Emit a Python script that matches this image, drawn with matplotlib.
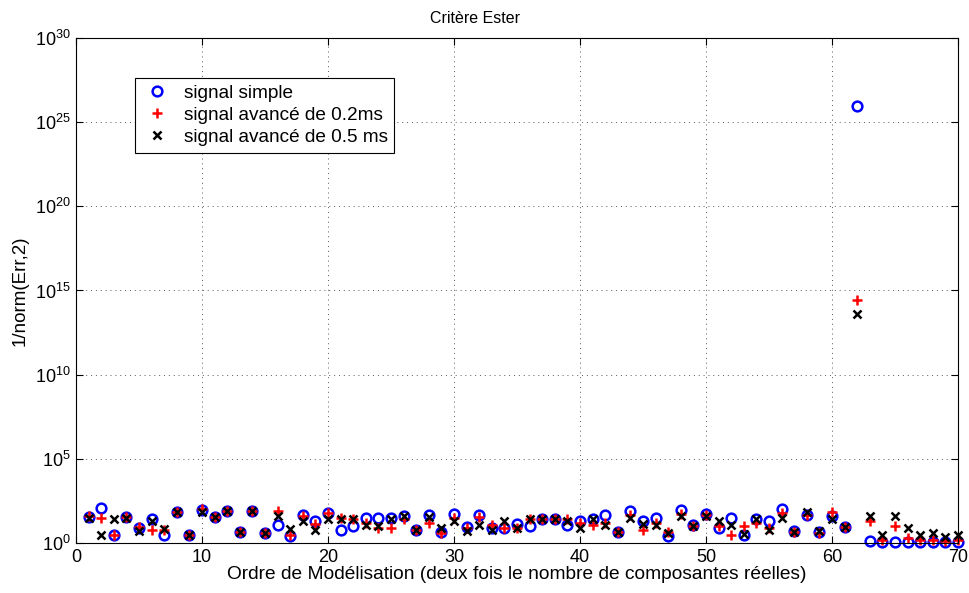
import matplotlib
matplotlib.use("Agg")
import matplotlib.pyplot as plt

plt.rcParams['font.family'] = ['Liberation Sans', 'DejaVu Sans']
plt.rcParams['mathtext.default'] = 'regular'
plt.rcParams['font.size'] = 13

# ordre de modelisation 1..70
ordre = list(range(1, 71))

# 1/norm(Err,2) pour chaque signal
simple = [36, 115, 3.2, 33, 8, 27, 3.2, 66, 3.2, 91,
          33, 83, 4.7, 83, 3.8, 12, 2.5, 45, 20, 63,
          5.9, 9.8, 30, 32, 30, 38, 5.6, 48, 4.5, 52,
          8.5, 45, 7.8, 7.8, 13, 9.8, 25, 27, 11, 20,
          25, 48, 4.5, 83, 20, 30, 2.5, 95, 11, 52,
          7.8, 30, 2.9, 25, 20, 110, 5, 45, 4.5, 38,
          8.5, 8.5e25, 1.4, 1.2, 1.2, 1.2, 1.2, 1.2, 1.2, 1.2]

avance_02 = [40, 30, 3.2, 33, 9.3, 5.9, 5.6, 66, 3.2, 100,
             33, 83, 4.7, 83, 3.8, 83, 3.2, 40, 14, 63,
             30, 25, 14.5, 7.8, 7.8, 25, 5.6, 14.5, 4, 30,
             7.8, 33, 11.7, 7.8, 7.8, 27, 25, 27, 25, 14.5,
             11.7, 14.5, 4.5, 48, 6.2, 14.5, 4.5, 52, 9.8, 48,
             9.8, 3.2, 9.8, 14.5, 7.8, 63, 4.5, 45, 4, 72,
             8.5, 2.9e14, 20, 1.5, 9.8, 2, 1.6, 1.6, 1.25, 1.6]

avance_05 = [30, 3, 27, 32, 5.1, 19, 6.8, 66, 3.2, 71,
             33, 83, 4.7, 83, 3.8, 39, 7, 20, 5.6, 25,
             27, 25, 11.7, 9.8, 25, 38, 5.6, 33, 7.8, 21,
             4.9, 11.7, 6.2, 21, 7.8, 25, 25, 27, 21, 7.8,
             25, 11.7, 4.5, 30, 14, 11.7, 4, 38, 9.8, 38,
             21, 11.7, 3.5, 25, 6.2, 30, 4.5, 69, 5, 25,
             8.5, 4e13, 38, 3.2, 38, 7.8, 2.9, 4, 2.2, 3.2]

fig = plt.figure(figsize=(9.69, 5.93), dpi=100)
ax = fig.add_axes([0.0784, 0.0843, 0.9103, 0.8517])

ax.semilogy(ordre, simple, 'o', color='blue', mfc='none', ms=7, mew=1.8,
            label='signal simple', clip_on=False)
ax.semilogy(ordre, avance_02, '+', color='red', ms=7, mew=1.8,
            label='signal avancé de 0.2ms', clip_on=False)
ax.semilogy(ordre, avance_05, 'x', color='black', ms=6, mew=1.8,
            label='signal avancé de 0.5 ms', clip_on=False)

ax.set_xlim(0, 70)
ax.set_ylim(1, 1e30)
ax.set_xticks(range(0, 71, 10))
ax.set_yticks([10.0 ** k for k in range(0, 31, 5)])
ax.yaxis.set_minor_locator(matplotlib.ticker.NullLocator())
ax.tick_params(direction='in', top=True, right=True, length=5, labelsize=13, pad=4)
ax.grid(True, linestyle=(0, (1, 4)), color='0.35', linewidth=0.7)
for s in ax.spines.values():
    s.set_linewidth(0.8)

ax.text(0.452, 1.024, 'Critère Ester', transform=ax.transAxes,
        ha='center', va='bottom', fontsize=11.5)
ax.set_xlabel('Ordre de Modélisation (deux fois le nombre de composantes réelles)',
              fontsize=13.8, labelpad=0)
ax.set_ylabel('1/norm(Err,2)', fontsize=13.5, labelpad=4)

leg = ax.legend(loc='upper left', bbox_to_anchor=(0.067, 0.921), borderaxespad=0,
                fancybox=False, framealpha=1, edgecolor='black', handletextpad=0.6,
                handlelength=1.6, labelspacing=0.25, borderpad=0.35, fontsize=13.7)
leg.get_frame().set_linewidth(0.8)

fig.savefig('out.png', dpi=100)
